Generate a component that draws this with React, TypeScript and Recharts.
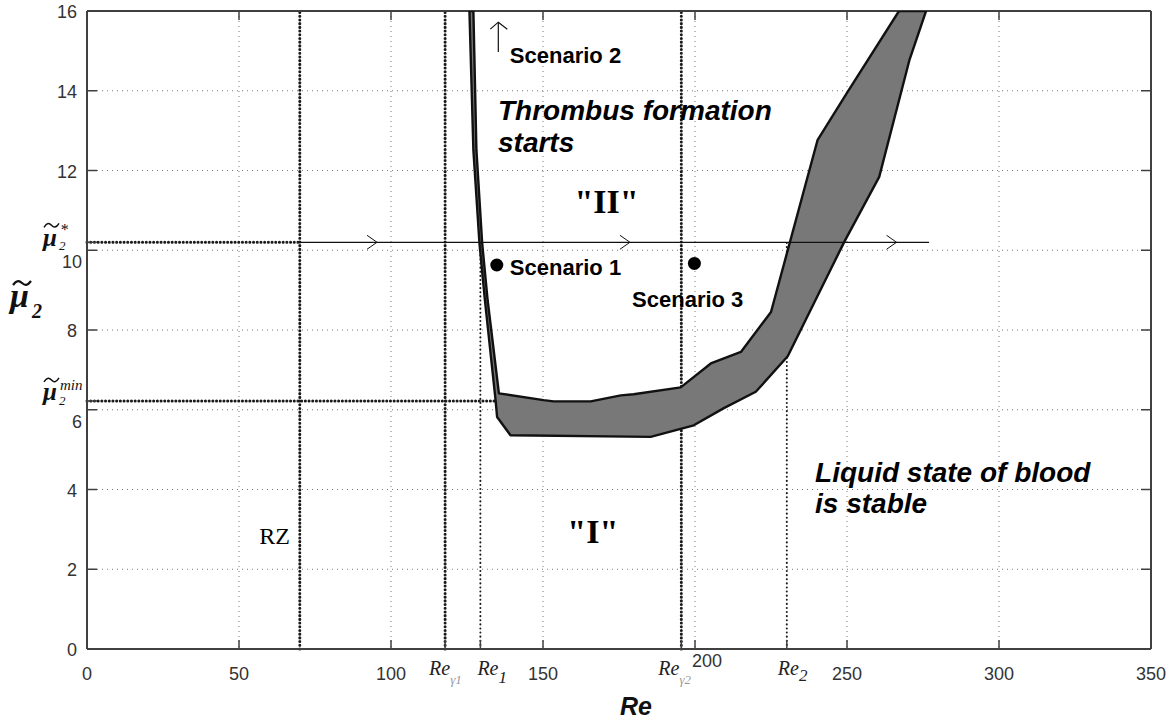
import {
  CartesianGrid,
  ComposedChart,
  Polygon,
  ReferenceDot,
  ReferenceLine,
  Scatter,
  XAxis,
  YAxis,
} from 'recharts';

const X_TICKS = [0, 50, 100, 150, 200, 250, 300, 350];
const Y_TICKS = [0, 2, 4, 6, 8, 10, 12, 14, 16];

// special Reynolds numbers marked on the x axis
const RE_MARKS = [
  { id: 'g1', value: 117.8, sub: 'γ1' },
  { id: 'r1', value: 129.4, sub: '1' },
  { id: 'g2', value: 195.5, sub: 'γ2' },
  { id: 'r2', value: 230.2, sub: '2' },
];
const RE_RZ = 70;
const MU_STAR = 10.2;
const MU_MIN = 6.22;

// edges of the grey band, left to right
const BAND_LOWER = [
  { x: 125.8, y: 16 }, { x: 127.1, y: 12.51 }, { x: 129.1, y: 10.17 }, { x: 130.9, y: 8.74 },
  { x: 134.4, y: 6.24 }, { x: 134.9, y: 5.82 }, { x: 139.3, y: 5.36 }, { x: 185.4, y: 5.32 },
  { x: 199.6, y: 5.61 }, { x: 209.5, y: 6.04 }, { x: 220.0, y: 6.45 }, { x: 230.5, y: 7.34 },
  { x: 249.1, y: 10.21 }, { x: 260.6, y: 11.84 }, { x: 270.5, y: 14.76 }, { x: 276.0, y: 16 },
];
const BAND_UPPER = [
  { x: 127.1, y: 16 }, { x: 128.1, y: 12.51 }, { x: 130.0, y: 10.17 }, { x: 131.8, y: 8.74 },
  { x: 135.5, y: 6.41 }, { x: 150.2, y: 6.24 }, { x: 153.5, y: 6.21 }, { x: 165.7, y: 6.21 },
  { x: 175.6, y: 6.36 }, { x: 179.8, y: 6.39 }, { x: 195.3, y: 6.56 }, { x: 205.2, y: 7.16 },
  { x: 215.1, y: 7.45 }, { x: 225.0, y: 8.45 }, { x: 240.3, y: 12.76 }, { x: 250.2, y: 13.97 },
  { x: 267.1, y: 16 },
];

const SCENARIO_DOTS = [
  { x: 134.8, y: 9.63 },
  { x: 199.8, y: 9.67 },
];
const PATH = [
  { x: RE_RZ, y: MU_STAR },
  { x: 277, y: MU_STAR },
];
const PATH_ARROWS = [
  { x: 95.4, y: MU_STAR },
  { x: 178.6, y: MU_STAR },
  { x: 266.3, y: MU_STAR },
];
const UP_ARROW = [
  { x: 135.3, y: 14.97, head: false },
  { x: 135.3, y: 15.72, head: true },
];

const NOTES = [
  { id: 's2', x: 139.1, y: 14.7, lines: ['Scenario 2'] },
  { id: 'thr', x: 135.2, y: 13.27, lines: ['Thrombus formation', 'starts'] },
  { id: 'II', x: 170.9, y: 10.93, lines: ['"II"'] },
  { id: 's1', x: 139.1, y: 9.38, lines: ['Scenario 1'] },
  { id: 's3', x: 179.3, y: 8.58, lines: ['Scenario 3'] },
  { id: 'liq', x: 239.5, y: 4.19, lines: ['Liquid state of blood', 'is stable'] },
  { id: 'I', x: 166.4, y: 2.66, lines: ['"I"'] },
  { id: 'rz', x: 56.7, y: 2.63, lines: ['RZ'] },
];

const SANS = 'Liberation Sans, Arial, sans-serif';
const SERIF = 'Liberation Serif, Times New Roman, serif';

const NOTE_STYLE: Record<string, any> = {
  s2: { fontFamily: SANS, fontWeight: 700, fontSize: 22 },
  s1: { fontFamily: SANS, fontWeight: 700, fontSize: 22 },
  s3: { fontFamily: SANS, fontWeight: 700, fontSize: 22 },
  thr: { fontFamily: SANS, fontWeight: 700, fontStyle: 'italic', fontSize: 28, gap: 32 },
  liq: { fontFamily: SANS, fontWeight: 700, fontStyle: 'italic', fontSize: 28, gap: 31 },
  II: { fontFamily: SERIF, fontWeight: 700, fontSize: 34, anchor: 'middle' },
  I: { fontFamily: SERIF, fontWeight: 700, fontSize: 34, anchor: 'middle' },
  rz: { fontFamily: SERIF, fontSize: 24 },
};

const RE_LABEL_STYLE: Record<string, { dx: number; dy: number; size: number; fill: string }> = {
  g1: { dx: -16, dy: 9, size: 13, fill: '#9a9a9a' },
  r1: { dx: -3, dy: 8, size: 17, fill: '#222' },
  g2: { dx: -23, dy: 9, size: 13, fill: '#9a9a9a' },
  r2: { dx: -9, dy: 6, size: 17, fill: '#222' },
};

const AXIS = '#404040';
const bottomTicks = [...X_TICKS, ...RE_MARKS.map((m) => m.value)].sort((a, b) => a - b);
const leftTicks = [...Y_TICKS, MU_MIN, MU_STAR].sort((a, b) => a - b);

// wavy accent drawn over the mu symbol
function Tilde({ x, y, w, sw = 1.5 }: { x: number; y: number; w: number; sw?: number }) {
  const d = `M${x},${y + 2} C${x + w * 0.2},${y - 3} ${x + w * 0.35},${y - 2.5} ${x + w * 0.5},${y} S${x + w * 0.8},${y + 3} ${x + w},${y - 2}`;
  return <path d={d} fill="none" stroke="#111" strokeWidth={sw} />;
}

function BottomTick({ x, y, payload }: any) {
  const v = payload.value;
  const mark = RE_MARKS.find((m) => m.value === v);
  const tick = <line x1={x} x2={x} y1={y} y2={y - 9} stroke={AXIS} strokeWidth={1.5} />;
  if (mark) {
    const s = RE_LABEL_STYLE[mark.id];
    return (
      <g>
        {tick}
        <text x={x + s.dx} y={y + 26} fontFamily={SERIF} fontStyle="italic" fontSize={20} fill="#222">
          Re
          <tspan dy={s.dy} fontSize={s.size} fill={s.fill}>
            {mark.sub}
          </tspan>
        </text>
      </g>
    );
  }
  // the 200 label is pushed up and right to make room for Re_γ2
  const dx = v === 200 ? 12 : 0;
  const dy = v === 200 ? -13 : 0;
  return (
    <g>
      {tick}
      <text x={x + dx} y={y + 31 + dy} textAnchor="middle" fontFamily={SANS} fontSize={18} fill="#333">
        {v}
      </text>
    </g>
  );
}

function TopTick({ x, y }: any) {
  return <line x1={x} x2={x} y1={y} y2={y + 9} stroke={AXIS} strokeWidth={1.5} />;
}

function RightTick({ x, y }: any) {
  return <line x1={x} x2={x - 10} y1={y} y2={y} stroke={AXIS} strokeWidth={1.5} />;
}

function LeftTick({ x, y, payload }: any) {
  const v = payload.value;
  const tick = <line x1={x} x2={x + 10} y1={y} y2={y} stroke={AXIS} strokeWidth={1.5} />;
  const mu = { fontFamily: SERIF, fontStyle: 'italic', fill: '#111' } as const;
  if (v === MU_STAR) {
    return (
      <g>
        {tick}
        <Tilde x={x - 43} y={y - 17} w={15} />
        <text x={x - 44} y={y + 4} fontSize={25} fontWeight={700} {...mu}>μ</text>
        <text x={x - 28} y={y + 8} fontSize={13} {...mu}>2</text>
        <text x={x - 27} y={y - 7} fontSize={16} {...mu}>*</text>
      </g>
    );
  }
  if (v === MU_MIN) {
    return (
      <g>
        {tick}
        <Tilde x={x - 43} y={y - 21} w={15} />
        <text x={x - 44} y={y - 1} fontSize={25} fontWeight={700} {...mu}>μ</text>
        <text x={x - 28} y={y + 4} fontSize={13} {...mu}>2</text>
        <text x={x - 27} y={y - 11} fontSize={15} {...mu}>min</text>
      </g>
    );
  }
  const moved = v === 10 || v === 6;
  return (
    <g>
      {tick}
      <text
        x={x - (moved ? 5 : 10)}
        y={y + 7 + (moved ? 11 : 0)}
        textAnchor="end"
        fontFamily={SANS}
        fontSize={18}
        fill="#333"
      >
        {v}
      </text>
    </g>
  );
}

function ReTitle({ viewBox }: any) {
  return (
    <text
      x={viewBox.x + 549}
      y={viewBox.y + 66}
      textAnchor="middle"
      fontFamily={SANS}
      fontWeight={700}
      fontStyle="italic"
      fontSize={25}
      fill="#111"
    >
      Re
    </text>
  );
}

function MuTitle({ viewBox }: any) {
  const x = viewBox.x - 76;
  return (
    <g fontFamily={SERIF} fontStyle="italic" fontWeight={700} fill="#111">
      <Tilde x={x + 3} y={283} w={18} sw={2.2} />
      <text x={x} y={307} fontSize={34}>μ</text>
      <text x={x + 22} y={318} fontSize={20}>2</text>
    </g>
  );
}

function NoShape() {
  return <g />;
}

function Chevron({ cx, cy }: any) {
  return <path d={`M${cx - 10},${cy - 7}L${cx},${cy}L${cx - 10},${cy + 7}`} fill="none" stroke="#111" strokeWidth={1} />;
}

function UpHead({ cx, cy, payload }: any) {
  if (!payload.head) return <g />;
  return <path d={`M${cx - 8},${cy + 7}L${cx},${cy}L${cx + 9},${cy + 7}`} fill="none" stroke="#111" strokeWidth={1.2} />;
}

function Dot({ cx, cy }: any) {
  return <circle cx={cx} cy={cy} r={6.5} fill="#000" />;
}

function bandPolygon(props: any) {
  return <Polygon points={props.points} fill="#787878" stroke="#111" strokeWidth={2.4} strokeLinejoin="round" />;
}

function noteShape(note: (typeof NOTES)[number]) {
  return ({ cx, cy }: any) => {
    const s = NOTE_STYLE[note.id];
    return (
      <text
        x={cx}
        y={cy}
        textAnchor={s.anchor ?? 'start'}
        fontFamily={s.fontFamily}
        fontWeight={s.fontWeight ?? 400}
        fontStyle={s.fontStyle ?? 'normal'}
        fontSize={s.fontSize}
        fill="#000"
      >
        {note.lines.map((t, i) => (
          <tspan key={t} x={cx} dy={i === 0 ? 0 : s.gap}>
            {t}
          </tspan>
        ))}
      </text>
    );
  };
}

const band = [...BAND_LOWER, ...[...BAND_UPPER].reverse()];
const heavy = { stroke: '#1a1a1a', strokeWidth: 3, strokeDasharray: '0.1 3.6', strokeLinecap: 'round' as const };
const light = { stroke: '#1a1a1a', strokeWidth: 2, strokeDasharray: '0.1 4', strokeLinecap: 'round' as const };

export default function App() {
  return (
    <div style={{ position: 'absolute', left: 0, top: 0, background: '#fff' }}>
      <ComposedChart
        width={1173}
        height={722}
        margin={{ top: 10, right: 21, bottom: 72, left: 86 }}
        style={{ fontFamily: SANS }}
      >
        <CartesianGrid
          verticalValues={X_TICKS}
          horizontalValues={Y_TICKS}
          stroke="#7a7a7a"
          strokeDasharray="1 4"
        />
        <XAxis
          type="number"
          dataKey="x"
          domain={[0, 350]}
          ticks={bottomTicks}
          interval={0}
          height={1}
          tickSize={0}
          tickMargin={0}
          tickLine={false}
          tick={BottomTick}
          axisLine={{ stroke: AXIS, strokeWidth: 2 }}
          allowDataOverflow
          label={ReTitle}
        />
        <XAxis
          xAxisId="top"
          orientation="top"
          type="number"
          dataKey="x"
          domain={[0, 350]}
          ticks={X_TICKS}
          interval={0}
          height={1}
          tickSize={0}
          tickMargin={0}
          tickLine={false}
          tick={TopTick}
          axisLine={{ stroke: AXIS, strokeWidth: 2 }}
          allowDataOverflow
        />
        <YAxis
          type="number"
          dataKey="y"
          domain={[0, 16]}
          ticks={leftTicks}
          interval={0}
          width={1}
          tickSize={0}
          tickMargin={0}
          tickLine={false}
          tick={LeftTick}
          axisLine={{ stroke: AXIS, strokeWidth: 2 }}
          allowDataOverflow
          label={MuTitle}
        />
        <YAxis
          yAxisId="right"
          orientation="right"
          type="number"
          dataKey="y"
          domain={[0, 16]}
          ticks={Y_TICKS}
          interval={0}
          width={1}
          tickSize={0}
          tickMargin={0}
          tickLine={false}
          tick={RightTick}
          axisLine={{ stroke: AXIS, strokeWidth: 2 }}
          allowDataOverflow
        />

        <ReferenceLine x={RE_RZ} {...heavy} />
        <ReferenceLine x={RE_MARKS[0].value} {...heavy} />
        <ReferenceLine x={RE_MARKS[2].value} {...heavy} />
        <ReferenceLine segment={[{ x: RE_MARKS[1].value, y: 0 }, { x: RE_MARKS[1].value, y: MU_STAR }]} {...light} />
        <ReferenceLine segment={[{ x: RE_MARKS[3].value, y: 0 }, { x: RE_MARKS[3].value, y: MU_STAR }]} {...light} />
        <ReferenceLine segment={[{ x: 0, y: MU_STAR }, { x: RE_RZ, y: MU_STAR }]} {...heavy} />
        <ReferenceLine segment={[{ x: 0, y: MU_MIN }, { x: 135, y: MU_MIN }]} {...heavy} />

        <Scatter data={band} dataKey="y" shape={NoShape} line={bandPolygon} isAnimationActive={false} />
        <Scatter
          data={PATH}
          dataKey="y"
          shape={NoShape}
          line={{ stroke: '#111', strokeWidth: 1.2 }}
          isAnimationActive={false}
        />
        <Scatter data={PATH_ARROWS} dataKey="y" shape={Chevron} isAnimationActive={false} />
        <Scatter
          data={UP_ARROW}
          dataKey="y"
          shape={UpHead}
          line={{ stroke: '#111', strokeWidth: 1.2 }}
          isAnimationActive={false}
        />
        <Scatter data={SCENARIO_DOTS} dataKey="y" shape={Dot} isAnimationActive={false} />

        {NOTES.map((n) => (
          <ReferenceDot key={n.id} x={n.x} y={n.y} r={0} shape={noteShape(n)} />
        ))}
      </ComposedChart>
    </div>
  );
}
